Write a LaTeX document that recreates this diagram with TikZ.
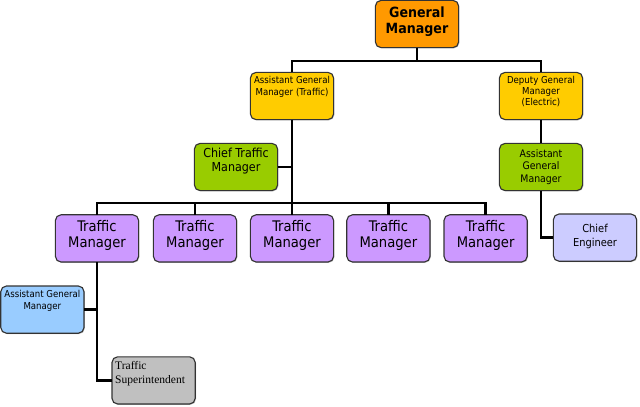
\documentclass[tikz,border=0pt]{standalone}
\usepackage{fontspec}
\setmainfont{DejaVu Sans Condensed}
\newfontfamily\serifface{Liberation Serif}
\usetikzlibrary{calc,shadows}
\definecolor{gmorange}{HTML}{FF9900}
\definecolor{agmyellow}{HTML}{FFCC00}
\definecolor{chiefgreen}{HTML}{99CC00}
\definecolor{tmpurple}{HTML}{CC99FF}
\definecolor{engblue}{HTML}{CCCCFF}
\definecolor{agmblue}{HTML}{99CCFF}
\definecolor{supgray}{HTML}{C0C0C0}
\newcommand{\boxtext}[2]{\parbox[c][1.18cm][t]{2.08cm}{\centering\vspace*{#1}#2}}
\newcommand{\fs}[2]{\fontsize{#1}{#2}\selectfont}

\begin{document}
\begin{tikzpicture}[
  post/.style={draw=black!80, line width=0.8pt, rounded corners=4pt, inner sep=0pt, outer sep=0pt, fill=#1,
    drop shadow={shadow xshift=0.6pt, shadow yshift=-0.6pt, opacity=0.45}},
  link/.style={line width=2.1pt}]
\useasboundingbox (0,0) rectangle (16,-10.15);

\node[post=gmorange]   (gm)   at (10.425,-0.6)  {\boxtext{0.165cm}{\fs{10}{11.3}\bfseries General\\Manager}};
\node[post=agmyellow]  (agmt) at (7.3,-2.4)     {\boxtext{0.085cm}{\fs{6.8}{8.7}Assistant General\\Manager (Traffic)}};
\node[post=agmyellow]  (dgm)  at (13.525,-2.4)  {\boxtext{0.1cm}{\fs{6.8}{7.9}Deputy General\\Manager\\(Electric)}};
\node[post=chiefgreen] (ctm)  at (5.9,-4.175)   {\boxtext{0.12cm}{\fs{8.8}{10.2}Chief Traffic\\Manager}};
\node[post=chiefgreen] (agme) at (13.525,-4.175) {\boxtext{0.15cm}{\fs{7.4}{8.9}Assistant\\General\\Manager}};

\node[post=tmpurple] (tm1) at (2.425,-5.96) {\boxtext{0.14cm}{\fs{10.4}{11.3}Traffic\\Manager}};
\node[post=tmpurple] (tm2) at (4.875,-5.96) {\boxtext{0.14cm}{\fs{10.4}{11.3}Traffic\\Manager}};
\node[post=tmpurple] (tm3) at (7.3,-5.96)   {\boxtext{0.14cm}{\fs{10.4}{11.3}Traffic\\Manager}};
\node[post=tmpurple] (tm4) at (9.71,-5.96)  {\boxtext{0.14cm}{\fs{10.4}{11.3}Traffic\\Manager}};
\node[post=tmpurple] (tm5) at (12.14,-5.96) {\boxtext{0.14cm}{\fs{10.4}{11.3}Traffic\\Manager}};
\node[post=engblue]  (ce)  at (14.875,-5.94) {\boxtext{0.245cm}{\fs{7.8}{10.5}Chief\\Engineer}};

\node[post=agmblue] (agmb) at (1.06,-7.74) {\boxtext{0.1cm}{\fs{6.8}{8.5}Assistant General\\Manager}};
\node[post=supgray] (ts)   at (3.84,-9.51) {\boxtext{0.125cm}{\raggedright\leftskip=0.08cm\serifface\fs{8.2}{10}Traffic\\Superintendent}};

\coordinate (bus1) at (10.425,-1.525);
\coordinate (bus2) at (7.3,-5.075);

\draw[link] (gm) -- (bus1);
\draw[link] (agmt.north) |- (bus1) -| (dgm.north);
\draw[link] (agmt.south) -- (tm3.north);
\draw[link] (ctm.east) -- (ctm.east -| agmt.south);
\draw[link] (tm1.north) |- (bus2) -| (tm5.north);
\draw[link] (tm2.north) -- (tm2.north |- bus2);
\draw[link] (tm4.north) -- (tm4.north |- bus2);
\draw[link] (dgm.south) -- (agme.north);
\draw[link] (agme.south) |- (ce.west);
\draw[link] (tm1.south) |- (ts.west);
\draw[link] (agmb.east) -- (agmb.east -| tm1.south);
\end{tikzpicture}
\end{document}
